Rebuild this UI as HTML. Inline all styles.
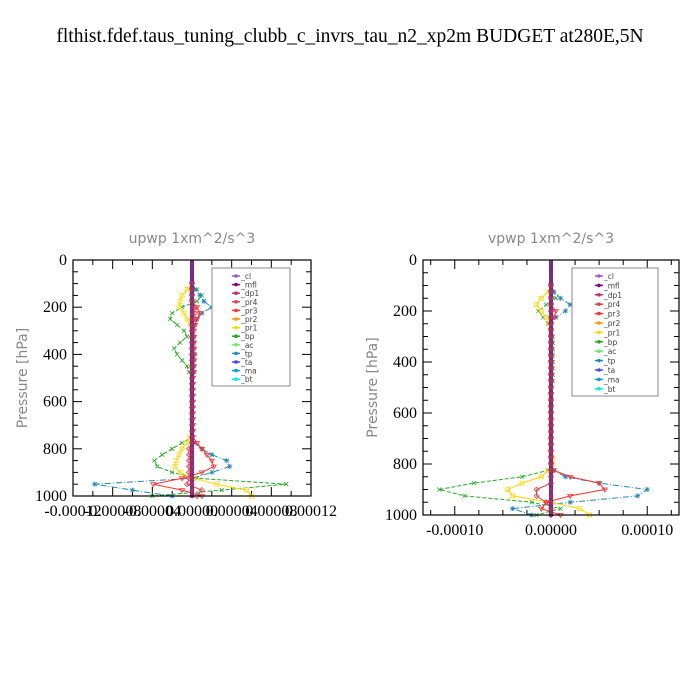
<!DOCTYPE html>
<html><head><meta charset="utf-8"><style>
html,body{margin:0;padding:0;background:#fff;width:700px;height:700px;overflow:hidden}
svg{display:block}
.t{font-family:"Liberation Serif",serif;fill:#000}
.g{font-family:"DejaVu Sans","Liberation Sans",sans-serif;fill:#888}
.lg{font-family:"DejaVu Sans","Liberation Sans",sans-serif;fill:#444;font-size:7.5px}
</style></head><body>
<svg id="chart" width="700" height="700" xmlns="http://www.w3.org/2000/svg">
<text class="t" x="350" y="42" font-size="19.5" text-anchor="middle">flthist.fdef.taus_tuning_clubb_c_invrs_tau_n2_xp2m  BUDGET at280E,5N</text>
</svg>
<script>
// pressure levels (hPa)
const levels=[100,125,150,175,200,225,250,275,300,325,350,375,400,425,450,475,500,525,550,575,600,625,650,675,700,725,750,775,800,825,850,875,900,925,950,975,1000];
const seriesNames=["_cl","_mfl","_dp1","_pr4","_pr3","_pr2","_pr1","_bp","_ac","_tp","_ta","_ma","_bt"];
const seriesColors=["#9b59d0","#800080","#c03060","#e04050","#ff3030","#ff9900","#ffd700","#22aa22","#66ee66","#2288bb","#4444ff","#1199dd","#00eeee"];
// left panel (upwp) values in 1e-5
const upBp=[0,0.5,1,0.5,-1,-2,-2.2,-1.5,-0.8,-0.5,-1.2,-1.8,-1.5,-1,-0.5,-0.3,0,0,0,0,0,0,0,0,0,0,0,-1,-2,-3,-3.8,-3.5,-2,0.5,9.5,3,-4];
const upTp=[0,0.3,0.8,1.2,2,1,0.5,0.3,0,0.2,0.2,0.2,0.3,0.2,0.2,0.2,0,0,0,0,0,0,0,0,0,0,0,0.3,1,2,3.5,3.8,2,0,-9.8,-6,-2];
const upPr1=[0,-0.5,-1,-1.2,-1.3,-0.8,-0.5,-0.2,0,0,0,0,0,0,0,0,0,0,0,0,0,0,0,0,0,0,-0.2,-0.5,-1,-1.3,-1.6,-1.7,-1.2,0.2,2.5,5.5,6];
const upPr3=[0,0,0,0,0.5,0.8,0.5,0.3,0.2,0.2,0.2,0.2,0.2,0.2,0.2,0.2,0.1,0.1,0.1,0.1,0.1,0.1,0.1,0.1,0.1,0.1,0.1,0.5,1,1.5,2,2.2,1,-1,-3.9,-1,1];
const upPr4=[0,0,0,0,0.3,0.3,0.3,0,0,0,0,0,0,0,0,0,0,0,0,0,0,0,0,0,0,0,0,0,-0.3,-0.3,-0.3,-0.3,-0.3,-0.3,-0.5,1,0.5];
// right panel (vpwp) values in 1e-5
const vpBp=[0,0.3,0.5,-0.5,-1.3,-0.8,-0.3,0,0.2,0.2,0.2,0.2,0.2,0.2,0.2,0.2,0,0,0,0,0,0,0,0,0,0,0,0,0,-0.3,-3,-8,-11.6,-9,-2,1,-1.5];
const vpTp=[0,0.3,1,2,1.5,0.5,0,0,0,0,0,0,0,0,0,0,0,0,0,0,0,0,0,0,0,0,0,0,0,0.3,1.5,5,10,9,2,-4,-2];
const vpPr1=[0,-0.3,-1,-1.5,-1,-0.5,-0.2,0,0,0,0,0,0,0,0,0,0,0,0,0,0,0,0,0,0,0,0,0.2,0.2,-0.3,-1,-3,-4.5,-4,0,3,4];
const vpPr3=[0,0,0,0,0.5,0.3,0,0,0,0,0,0,0,0,0,0,0,0,0,0,0,0,0,0,0,0,0,0,0,0.3,2,5,5.6,2,-0.5,-1,1];
const vpPr4=[0,0,0,0,0,0,0,0,0,0,0,0,0,0,0,0,0,0,0,0,0,0,0,0,0,0,0,0,0,0,0,0,-1.5,-1.5,-0.5,0,0];
const upTicks=["-0.00012","-0.00008","-0.00004","0.00000","0.00004","0.00008","0.00012"];
const upTickVals=[-12,-8,-4,0,4,8,12];
const vpTicks=["-0.00010","0.00000","0.00010"];
const vpTickVals=[-10,0,10];
const yTicks=[0,200,400,600,800,1000];

const NS="http://www.w3.org/2000/svg";
const svg=document.getElementById("chart");
function mk(tag,attrs,parent){const e=document.createElementNS(NS,tag);for(const k in attrs)e.setAttribute(k,attrs[k]);(parent||svg).appendChild(e);return e;}

function panel(cfg){
  const g=mk("g",{});
  
  
  const X=v=>cfg.x0+(v-cfg.xmin)/(cfg.xmax-cfg.xmin)*(cfg.x1-cfg.x0);
  const Y=p=>cfg.y0+p/1000*(cfg.y1-cfg.y0);
  const tt=mk("text",{x:(cfg.x0+cfg.x1)/2,y:cfg.y0-17,"font-size":14,"text-anchor":"middle",class:"g"},g);
  tt.textContent=cfg.title;
  
  
  const yl=mk("text",{x:0,y:0,"font-size":14,"text-anchor":"middle",class:"g",transform:`translate(${cfg.x0-46},${(cfg.y0+cfg.y1)/2}) rotate(-90)`},g);
  yl.textContent="Pressure [hPa]";
  
  
  for(let p=0;p<=1000;p+=50){
    const big=p%200===0, L=big?9:5;
    mk("line",{x1:cfg.x0,x2:cfg.x0+L,y1:Y(p),y2:Y(p),stroke:"#000","stroke-width":1},g);
    mk("line",{x1:cfg.x1,x2:cfg.x1-L,y1:Y(p),y2:Y(p),stroke:"#000","stroke-width":1},g);
  }
  yTicks.forEach(p=>{
    const t=mk("text",{x:cfg.x0-6,y:Y(p)+5,"font-size":16,"text-anchor":"end",class:"t"},g);
    t.textContent=p;
    
    
  });
  for(let v=Math.ceil(cfg.xmin/cfg.minor)*cfg.minor;v<=cfg.xmax+1e-9;v+=cfg.minor){
    const big=cfg.tickVals.some(t=>Math.abs(t-v)<1e-6), L=big?9:5;
    mk("line",{x1:X(v),x2:X(v),y1:cfg.y1,y2:cfg.y1-L,stroke:"#000"},g);
    mk("line",{x1:X(v),x2:X(v),y1:cfg.y0,y2:cfg.y0+L,stroke:"#000"},g);
  }
  cfg.tickVals.forEach((v,i)=>{
    const t=mk("text",{x:X(v),y:cfg.y1+20,"font-size":16,"text-anchor":"middle",class:"t"},g);
    t.textContent=cfg.ticks[i];
    
    
  });
  function series(vals,color,marker,dash,name){
    const pts=vals.map((v,i)=>[X(v),Y(levels[i])]);
    const pl=mk("polyline",{points:pts.map(p=>p.join(",")).join(" "),fill:"none",stroke:color,"stroke-width":1,"stroke-dasharray":dash||"none"},g);
    
    
    pts.forEach(([x,y])=>{
      if(marker==="x"){mk("path",{d:`M${x-2},${y-2}L${x+2},${y+2}M${x-2},${y+2}L${x+2},${y-2}`,stroke:color,"stroke-width":0.8},g);}
      else if(marker==="sq"){mk("rect",{x:x-2,y:y-2,width:4,height:4,fill:"none",stroke:color,"stroke-width":0.8},g);}
      else if(marker==="tri"){mk("path",{d:`M${x-2.5},${y-1.5}L${x+2.5},${y-1.5}L${x},${y+2.5}Z`,fill:"none",stroke:color,"stroke-width":0.8},g);}
      else if(marker==="dia"){mk("path",{d:`M${x},${y-2.5}L${x+2.5},${y}L${x},${y+2.5}L${x-2.5},${y}Z`,fill:"none",stroke:color,"stroke-width":0.8},g);}
      else if(marker==="star"){mk("path",{d:`M${x-2.5},${y}L${x+2.5},${y}M${x},${y-2.5}L${x},${y+2.5}M${x-2},${y-2}L${x+2},${y+2}M${x-2},${y+2}L${x+2},${y-2}`,stroke:color,"stroke-width":0.8},g);}
    });
  }
  series(cfg.bp,"#22aa22","x","4,2","bp");
  series(cfg.tp,"#2288bb","star","6,2,1,2","tp");
  series(cfg.pr1,"#ffd700","sq",null,"pr1");
  series(cfg.pr3,"#ff3030","tri",null,"pr3");
  series(cfg.pr4,"#e04050","dia",null,"pr4");
  const z=mk("line",{x1:X(0),x2:X(0),y1:cfg.y0,y2:cfg.y1,stroke:"#7a2a8a","stroke-width":4},g);
  
  
  levels.forEach(p=>{mk("circle",{cx:X(0),cy:Y(p),r:2.3,fill:"#a03070"},g);});
  mk("rect",{x:cfg.x0,y:cfg.y0,width:cfg.x1-cfg.x0,height:cfg.y1-cfg.y0,fill:"none",stroke:"#000","stroke-width":1.2},g);
  const lgG=mk("g",{},g);
  
  
  const L=cfg.legend;
  mk("rect",{x:L.x,y:L.y,width:L.w,height:L.h,fill:"#fff",stroke:"#888"},lgG);
  seriesNames.forEach((n,i)=>{
    const y=L.y+8+i*L.dy, lx=L.x+L.w*0.36;
    mk("line",{x1:lx-8,x2:lx,y1:y,y2:y,stroke:seriesColors[i],"stroke-width":1.5},lgG);
    mk("circle",{cx:lx-4,cy:y,r:1.8,fill:seriesColors[i]},lgG);
    const t=mk("text",{x:lx+1,y:y+3,class:"lg"},lgG);
    t.textContent=n;
    
    
  });
}
panel({name:"upwp-panel",title:"upwp   1xm^2/s^3",x0:73,x1:311,y0:260,y1:496,xmin:-12,xmax:12,minor:2,
  ticks:upTicks,tickVals:upTickVals,bp:upBp,tp:upTp,pr1:upPr1,pr3:upPr3,pr4:upPr4,
  legend:{x:212,y:268,w:78,h:118,dy:8.6}});
panel({name:"vpwp-panel",title:"vpwp   1xm^2/s^3",x0:423,x1:679,y0:260,y1:515,xmin:-13.3,xmax:13.3,minor:2.5,
  ticks:vpTicks,tickVals:vpTickVals,bp:vpBp,tp:vpTp,pr1:vpPr1,pr3:vpPr3,pr4:vpPr4,
  legend:{x:572,y:268,w:86,h:128,dy:9.4}});
</script>
</body></html>
